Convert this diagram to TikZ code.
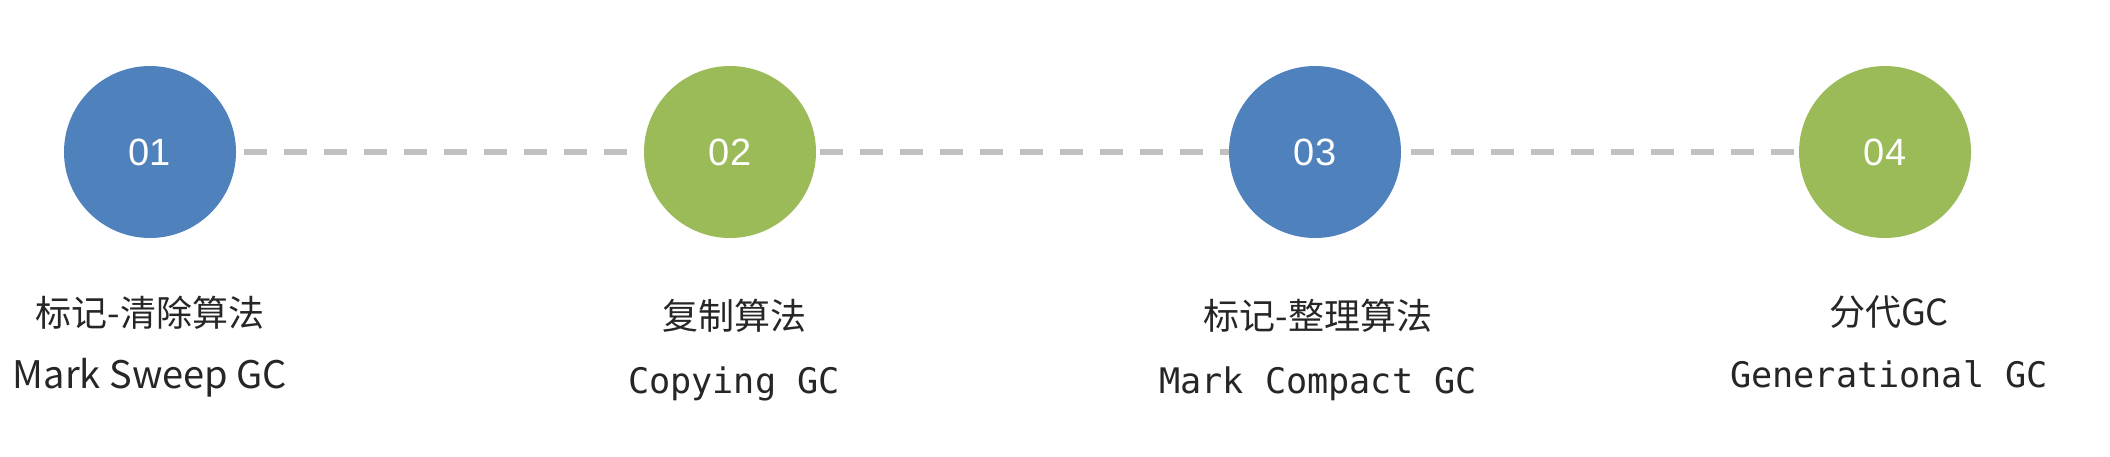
\documentclass[tikz,border=0pt]{standalone}
\usepackage{fontspec}
\setmainfont{Liberation Sans}
\setmonofont{DejaVu Sans Mono}
\newfontfamily\cjk{Noto Sans CJK SC}

\definecolor{gcblue}{HTML}{4F81BD}
\definecolor{gcgreen}{HTML}{9BBB59}
\definecolor{gcgray}{HTML}{C0C0C0}
\definecolor{gctext}{HTML}{262626}

\tikzset{
  ball/.style={circle, fill=#1, minimum size=86pt, inner sep=0pt, text=white, font=\fontsize{19}{19}\selectfont},
  link/.style={gcgray, line width=2.7pt, dash pattern=on 11.3pt off 8.7pt},
  title/.style={anchor=base, text=gctext, font=\cjk\fontsize{18}{18}\selectfont},
  sub/.style={anchor=base, text=gctext, font=\ttfamily\fontsize{17.6}{17.6}\selectfont}
}

\begin{document}
\begin{tikzpicture}[x=0.5pt, y=-0.5pt]
\useasboundingbox (0,0) rectangle (2110,456);
\node[ball=gcblue] (c1) at (150,152) {01};
\node[ball=gcgreen] (c2) at (730,152) {02};
\node[ball=gcblue] (c3) at (1315,152) {03};
\node[ball=gcgreen] (c4) at (1885,152) {04};
\draw[link, shorten <=4pt, shorten >=7pt] (c1) -- (c2);
\draw[link, shorten <=2pt] (c2) -- (c3);
\draw[link, shorten <=5pt] (c3) -- (c4);
\node[title] (t1) at (150,326) {标记-清除算法};
\node[title, font=\cjk\fontsize{19}{19}\selectfont] (e1) at (150,388) {Mark Sweep GC};
\node[title] (t2) at (734,329) {复制算法};
\node[sub] (e2) at (734,393) {Copying GC};
\node[title] (t3) at (1318,329) {标记-整理算法};
\node[sub] (e3) at (1318,393) {Mark Compact GC};
\node[title] (t4) at (1889,325) {分代GC};
\node[sub] (e4) at (1889,387) {Generational GC};
\end{tikzpicture}
\end{document}
